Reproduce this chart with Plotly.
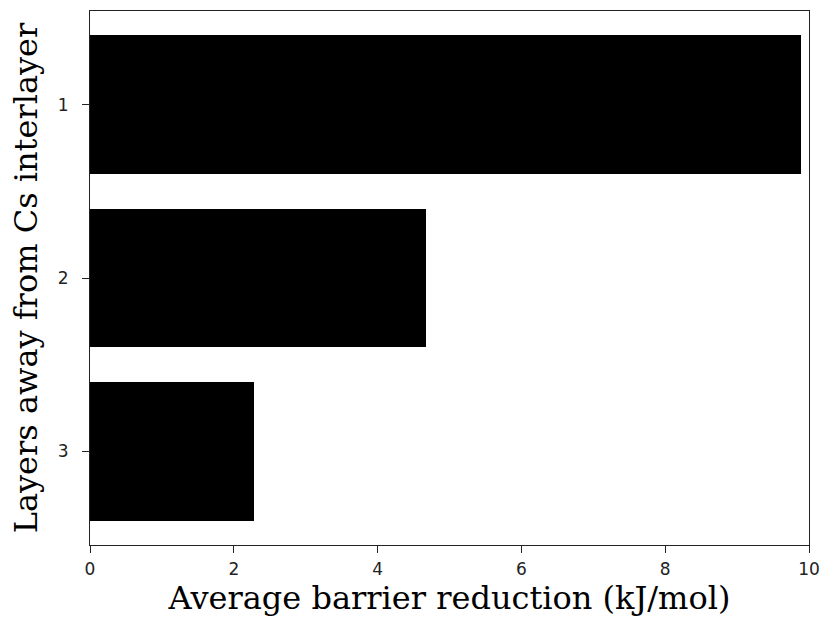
import plotly.graph_objects as go

# Average barrier reduction per layer distance from the Cs interlayer
layers = [1, 2, 3]
layer_labels = ["1", "2", "3"]
barrier_reduction = [9.89, 4.68, 2.28]

fig = go.Figure(
    go.Bar(
        x=barrier_reduction,
        y=layers,
        orientation="h",
        width=0.8,
        marker=dict(color="black", line=dict(width=0)),
        hoverinfo="x+y",
    )
)

axis_common = dict(
    showline=True,
    linecolor="#222222",
    linewidth=1,
    mirror=True,
    ticks="outside",
    ticklen=7,
    tickwidth=1,
    tickcolor="#222222",
    showgrid=False,
    zeroline=False,
    automargin=False,
    tickfont=dict(family="DejaVu Sans", size=17, color="#222222"),
)

fig.update_layout(
    width=822,
    height=620,
    margin=dict(l=90, r=13, t=11, b=75),
    paper_bgcolor="white",
    plot_bgcolor="white",
    showlegend=False,
    bargap=0,
    xaxis=dict(
        range=[0, 10],
        tickvals=[0, 2, 4, 6, 8, 10],
        ticklabelstandoff=2,
        title=dict(
            text="Average barrier reduction (kJ/mol)",
            font=dict(family="DejaVu Serif", size=32, color="black"),
            standoff=6,
        ),
        **axis_common,
    ),
    yaxis=dict(
        range=[3.54, 0.46],
        tickvals=layers,
        ticktext=layer_labels,
        ticklabelstandoff=10,
        title=dict(
            text="Layers away from Cs interlayer",
            font=dict(family="DejaVu Serif", size=32, color="black"),
            standoff=10,
        ),
        **axis_common,
    ),
)

fig.write_html("out.html")
